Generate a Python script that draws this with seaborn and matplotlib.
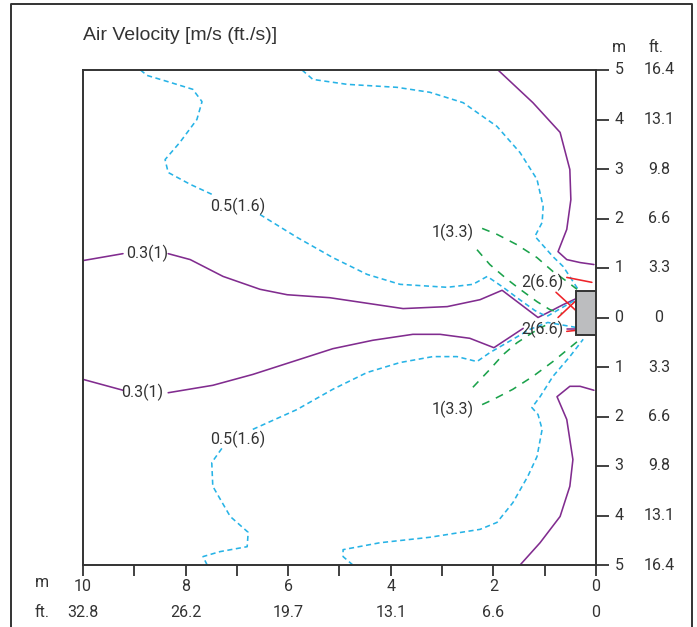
"""
Air velocity contours in front of an outlet (side view, m / ft.).
Recreated with seaborn lineplot, one row per traced contour point.
"""
import numpy as np
import pandas as pd
import matplotlib
matplotlib.use("Agg")
import matplotlib.pyplot as plt
import matplotlib.transforms as mtransforms
from matplotlib.patches import Rectangle
import seaborn as sns

# ---- contour data (distance from outlet [m], height [m]) ----
# 0.3 m/s, upper branch (left part before label, right part after)
v03_up_a_x = [10.0, 9.22]
v03_up_a_y = [1.15, 1.29]
v03_up_b_x = [8.34, 7.91, 7.27, 6.55, 6.02, 5.19, 4.54, 3.76, 2.90, 2.26, 1.83, 1.13, 0.90, 0.64, 0.39]
v03_up_b_y = [1.29, 1.17, 0.83, 0.57, 0.46, 0.40, 0.30, 0.18, 0.22, 0.36, 0.55, 0.00, 0.12, 0.26, 0.38]
# 0.3 m/s, lower branch
v03_lo_a_x = [10.0, 9.22]
v03_lo_a_y = [-1.25, -1.47]
v03_lo_b_x = [8.34, 7.47, 6.69, 5.91, 5.13, 4.35, 3.57, 3.04, 2.46, 1.99, 1.42]
v03_lo_b_y = [-1.52, -1.37, -1.15, -0.89, -0.63, -0.46, -0.34, -0.34, -0.42, -0.61, -0.22]
v03_lo_c_x = [0.57, 0.39]
v03_lo_c_y = [-0.24, -0.24]
# 0.3 m/s, close to the wall (top and bottom)
v03_top_x = [1.91, 1.23, 0.70, 0.51, 0.49, 0.57, 0.74, 0.57, 0.31, 0.04]
v03_top_y = [5.0, 4.34, 3.74, 2.99, 2.38, 1.78, 1.33, 1.17, 1.11, 1.07]
v03_bot_x = [0.04, 0.31, 0.51, 0.76, 0.57, 0.45, 0.51, 0.70, 1.09, 1.48]
v03_bot_y = [-1.47, -1.39, -1.39, -1.60, -2.06, -2.87, -3.41, -4.02, -4.55, -5.0]

# 0.5 m/s
v05_ul_a_x = [8.88, 8.75, 8.30, 7.86, 7.68, 7.78, 8.11, 8.40, 8.34, 7.91, 7.47]
v05_ul_a_y = [5.0, 4.89, 4.75, 4.61, 4.36, 4.00, 3.54, 3.19, 2.93, 2.69, 2.48]
v05_ul_b_x = [6.55, 5.83, 5.13, 4.46, 3.82, 2.90, 2.40, 2.12, 1.81, 1.54, 1.19, 0.96, 0.66, 0.39]
v05_ul_b_y = [2.08, 1.62, 1.21, 0.87, 0.67, 0.61, 0.67, 0.83, 0.61, 0.40, 0.14, 0.02, 0.20, 0.36]
v05_ur_x = [5.73, 5.52, 4.85, 3.88, 3.24, 2.59, 1.93, 1.48, 1.15, 1.03, 1.05, 1.19, 0.84, 0.64, 0.45, 0.35]
v05_ur_y = [5.0, 4.81, 4.71, 4.65, 4.55, 4.34, 3.86, 3.33, 2.79, 2.24, 1.92, 1.64, 1.23, 1.03, 0.73, 0.57]
v05_ll_a_x = [7.58, 7.66, 7.33, 6.80, 6.78, 7.13, 7.47, 7.49, 7.27]
v05_ll_a_y = [-5.0, -4.83, -4.73, -4.63, -4.34, -4.02, -3.41, -2.93, -2.61]
v05_ll_b_x = [6.69, 5.83, 5.13, 4.46, 3.82, 3.18, 2.71, 2.32, 2.07, 1.62, 1.29, 0.94, 0.39]
v05_ll_b_y = [-2.26, -1.86, -1.45, -1.11, -0.91, -0.79, -0.79, -0.89, -0.71, -0.44, -0.24, -0.10, -0.20]
v05_lr_x = [4.74, 4.93, 4.93, 4.21, 3.24, 2.26, 1.93, 1.62, 1.33, 1.15, 1.05, 1.13, 1.25, 1.09, 0.84, 0.51, 0.25]
v05_lr_y = [-5.0, -4.83, -4.69, -4.55, -4.44, -4.28, -4.14, -3.74, -3.21, -2.81, -2.26, -1.96, -1.82, -1.60, -1.19, -0.79, -0.44]

# 1 m/s
v1_uo_x = [2.22, 1.93, 1.54, 1.15, 0.84, 0.57, 0.37]
v1_uo_y = [1.80, 1.68, 1.47, 1.21, 0.93, 0.73, 0.57]
v1_ui_x = [2.32, 2.07, 1.73, 1.48, 1.15, 0.90, 0.66]
v1_ui_y = [1.37, 1.07, 0.77, 0.57, 0.32, 0.16, 0.08]
v1_li_x = [2.40, 2.07, 1.81, 1.54, 1.23, 0.99]
v1_li_y = [-1.41, -1.05, -0.75, -0.51, -0.30, -0.16]
v1_lo_x = [2.22, 2.01, 1.62, 1.23, 0.84, 0.51, 0.31]
v1_lo_y = [-1.76, -1.66, -1.45, -1.19, -0.89, -0.61, -0.44]

# 2 m/s
v2_a_x = [0.57, 0.08]
v2_a_y = [0.81, 0.71]
v2_b_x = [0.78, 0.37]
v2_b_y = [0.51, 0.12]
v2_c_x = [0.74, 0.37]
v2_c_y = [0.00, 0.36]
v2_d_x = [0.57, 0.39]
v2_d_y = [-0.28, -0.26]

# contour labels: text, x, y
label_text = ["0.3(1)", "0.3(1)", "0.5(1.6)", "0.5(1.6)", "1(3.3)", "1(3.3)", "2(6.6)", "2(6.6)"]
label_x = [8.75, 8.85, 6.98, 6.98, 2.79, 2.79, 1.05, 1.05]
label_y = [1.29, -1.52, 2.24, -2.46, 1.72, -1.86, 0.71, -0.24]

# outlet
outlet_x = [0.0, 0.39]
outlet_y = [-0.36, 0.53]

# axis ticks
m_ticks = [10, 8, 6, 4, 2, 0]
ft_ticks = ["32.8", "26.2", "19.7", "13.1", "6.6", "0"]
h_ticks = [5, 4, 3, 2, 1, 0, -1, -2, -3, -4, -5]
h_ft = ["16.4", "13.1", "9.8", "6.6", "3.3", "0", "3.3", "6.6", "9.8", "13.1", "16.4"]

curves = [
    ("0.3", v03_up_a_x, v03_up_a_y), ("0.3", v03_up_b_x, v03_up_b_y),
    ("0.3", v03_lo_a_x, v03_lo_a_y), ("0.3", v03_lo_b_x, v03_lo_b_y),
    ("0.3", v03_lo_c_x, v03_lo_c_y),
    ("0.3", v03_top_x, v03_top_y), ("0.3", v03_bot_x, v03_bot_y),
    ("0.5", v05_ul_a_x, v05_ul_a_y), ("0.5", v05_ul_b_x, v05_ul_b_y),
    ("0.5", v05_ur_x, v05_ur_y),
    ("0.5", v05_ll_a_x, v05_ll_a_y), ("0.5", v05_ll_b_x, v05_ll_b_y),
    ("0.5", v05_lr_x, v05_lr_y),
    ("1", v1_uo_x, v1_uo_y), ("1", v1_ui_x, v1_ui_y),
    ("1", v1_li_x, v1_li_y), ("1", v1_lo_x, v1_lo_y),
    ("2", v2_a_x, v2_a_y), ("2", v2_b_x, v2_b_y),
    ("2", v2_c_x, v2_c_y), ("2", v2_d_x, v2_d_y),
]
rows = []
for i, (lvl, xs, ys) in enumerate(curves):
    for x, y in zip(xs, ys):
        rows.append({"x": x, "y": y, "level": lvl, "seg": i})
df = pd.DataFrame(rows)

palette = {"0.3": "#812c8f", "0.5": "#27b3e6", "1": "#1ba24b", "2": "#ee2329"}
dashes = {"0.3": "", "0.5": (3.2, 2.2), "1": (5, 4.5), "2": ""}

sns.set_style("white")
plt.rcParams["font.family"] = ["Roboto", "DejaVu Sans"]
txt_col = "#333333"
fs = 11.5

fig = plt.figure(figsize=(6.97, 6.27), dpi=100)
ax = fig.add_axes([83 / 697, 1 - 565 / 627, 513 / 697, 495 / 627])

sns.lineplot(data=df, x="x", y="y", hue="level", style="level", units="seg",
             estimator=None, sort=False, palette=palette, dashes=dashes,
             linewidth=1.15, legend=False, ax=ax)

ax.add_patch(Rectangle((outlet_x[0], outlet_y[0]), outlet_x[1] - outlet_x[0],
                       outlet_y[1] - outlet_y[0], facecolor="#bcbdbf",
                       edgecolor="#333333", linewidth=1.4, zorder=5))

for t, x, y in zip(label_text, label_x, label_y):
    ax.text(x, y, t, ha="center", va="center", fontsize=fs, color=txt_col)

ax.set_xlim(10, 0)
ax.set_ylim(-5, 5)
ax.set_xlabel("")
ax.set_ylabel("")
for s in ax.spines.values():
    s.set_color("#333333")
    s.set_linewidth(1.4)

# bottom axis: ticks every metre, labels every two
ax.set_xticks(m_ticks)
ax.set_xticks([9, 7, 5, 3, 1], minor=True)
ax.set_xticklabels([str(v) for v in m_ticks])
ax.tick_params(axis="x", which="both", direction="out", length=8, width=1.3,
               color="#333333", labelsize=fs, labelcolor=txt_col, pad=2,
               bottom=True)

# right axis
ax.yaxis.tick_right()
ax.set_yticks(h_ticks)
ax.set_yticklabels([])
ax.tick_params(axis="y", which="both", direction="out", length=9, width=1.3,
               color="#333333", right=True, left=False)

tr_y = mtransforms.blended_transform_factory(ax.transAxes, ax.transData)
for v, f in zip(h_ticks, h_ft):
    ax.text(1.0448, v, str(abs(v)), transform=tr_y, ha="center", va="center",
            fontsize=fs, color=txt_col)
    ax.text(1.1228, v, f, transform=tr_y, ha="center", va="center",
            fontsize=fs, color=txt_col)
ax.text(1.0448, 5.45, "m", transform=tr_y, ha="center", va="center",
        fontsize=fs, color=txt_col)
ax.text(1.117, 5.45, "ft.", transform=tr_y, ha="center", va="center",
        fontsize=fs, color=txt_col)

tr_x = mtransforms.blended_transform_factory(ax.transData, ax.transAxes)
for v, f in zip(m_ticks, ft_ticks):
    ax.text(v, -0.095, f, transform=tr_x, ha="center", va="center",
            fontsize=fs, color=txt_col)
ax.text(-0.080, -0.036, "m", transform=ax.transAxes, ha="center", va="center",
        fontsize=fs, color=txt_col)
ax.text(-0.080, -0.095, "ft.", transform=ax.transAxes, ha="center", va="center",
        fontsize=fs, color=txt_col)

fig.text(83 / 697, 1 - 36 / 627, "Air Velocity [m/s (ft./s)]", ha="left",
         va="center", fontsize=14, color=txt_col,
         family=["Liberation Sans", "DejaVu Sans"])

# outer frame (open at the bottom)
fig.add_artist(plt.Line2D([11 / 697, 11 / 697, 692 / 697, 692 / 697],
                          [0, 1 - 4 / 627, 1 - 4 / 627, 0],
                          transform=fig.transFigure, color="#333333", lw=1.4))

fig.savefig("out.png", dpi=100)
